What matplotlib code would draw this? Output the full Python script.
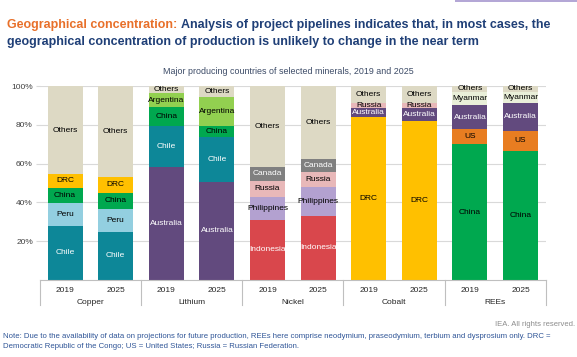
import matplotlib
matplotlib.use("Agg")
import matplotlib.pyplot as plt
from matplotlib.lines import Line2D
from matplotlib.patches import Rectangle

plt.rcParams["font.family"] = ["Liberation Sans", "DejaVu Sans"]

# ─────────────────────────────────────────────
# Data (share of production, %, stacked bottom -> top)
# ─────────────────────────────────────────────
years = ["2019", "2025"]
minerals = ["Copper", "Lithium", "Nickel", "Cobalt", "REEs"]

copper_countries = ["Chile", "Peru", "China", "DRC", "Others"]
copper_2019 = [27.8, 11.7, 8.1, 6.9, 45.5]
copper_2025 = [24.9, 11.9, 8.2, 8.3, 46.7]

lithium_countries = ["Australia", "Chile", "China", "Argentina", "Others"]
lithium_2019 = [58.4, 21.2, 9.7, 6.9, 3.8]
lithium_2025 = [50.7, 23.2, 5.5, 14.8, 5.8]

nickel_countries = ["Indonesia", "Philippines", "Russia", "Canada", "Others"]
nickel_2019 = [30.9, 12.1, 8.2, 6.9, 41.9]
nickel_2025 = [33.0, 15.1, 7.7, 6.4, 37.8]

cobalt_countries = ["DRC", "Australia", "Russia", "Others"]
cobalt_2019 = [84.2, 4.3, 2.9, 8.6]
cobalt_2025 = [82.1, 6.4, 2.9, 8.6]

rees_countries = ["China", "US", "Australia", "Myanmar", "Others"]
rees_2019 = [69.9, 7.9, 12.4, 6.8, 3.0]
rees_2025 = [66.5, 10.3, 14.6, 5.6, 3.0]

colors = {
    "Chile": "#0d8798", "Peru": "#93cfe0", "China": "#00a84f", "DRC": "#ffc000",
    "Others": "#ddd9c4", "Australia": "#624a7e", "Argentina": "#92d050",
    "Indonesia": "#d9474c", "Philippines": "#b3a1d0", "Russia": "#e8b8b9",
    "Canada": "#808080", "US": "#e87d21", "Myanmar": "#e9efd9",
}
white_text = {"Chile", "Australia", "Indonesia", "Canada"}

groups = [
    (copper_countries, [copper_2019, copper_2025]),
    (lithium_countries, [lithium_2019, lithium_2025]),
    (nickel_countries, [nickel_2019, nickel_2025]),
    (cobalt_countries, [cobalt_2019, cobalt_2025]),
    (rees_countries, [rees_2019, rees_2025]),
]

# ─────────────────────────────────────────────
# Figure
# ─────────────────────────────────────────────
fig = plt.figure(figsize=(5.77, 3.57), dpi=100)
ax = fig.add_axes([0.069, 0.216, 0.877, 0.543])

pos = 0
for countries, series in groups:
    for vals in series:
        bottom = 0
        for c, v in zip(countries, vals):
            ax.bar(pos, v, bottom=bottom, width=0.69, color=colors[c], zorder=2)
            ax.text(pos, bottom + v / 2, c, ha="center", va="center", fontsize=6,
                    color="white" if c in white_text else "black", zorder=3)
            bottom += v
        pos += 1

ax.set_xlim(-0.5, 9.5)
ax.set_ylim(0, 100)
ax.set_yticks([20, 40, 60, 80, 100])
ax.set_yticklabels([f"{t}%" for t in [20, 40, 60, 80, 100]], fontsize=6, color="#404040")
ax.grid(axis="y", color="#d9d9d9", linewidth=0.8, zorder=0)
ax.tick_params(axis="y", length=3, color="#d9d9d9", pad=2)
ax.set_xticks([])
for s in ["left", "right", "top"]:
    ax.spines[s].set_visible(False)
ax.spines["bottom"].set_color("#bfbfbf")

# category axis: years, mineral names and dividers
tr = ax.get_xaxis_transform()
for i in range(10):
    ax.text(i, -0.035, years[i % 2], transform=tr, ha="center", va="top", fontsize=6, color="#262626")
for g, name in enumerate(minerals):
    ax.text(2 * g + 0.5, -0.1, name, transform=tr, ha="center", va="top", fontsize=6, color="#262626")
for d in [-0.5, 1.5, 3.5, 5.5, 7.5, 9.5]:
    ax.add_line(Line2D([d, d], [0, -0.13], transform=tr, color="#bfbfbf", linewidth=0.8, clip_on=False))

# ─────────────────────────────────────────────
# Titles and notes
# ─────────────────────────────────────────────
fig.add_artist(Rectangle((455 / 577, 1 - 2 / 357), 122 / 577, 2 / 357, transform=fig.transFigure,
                         color="#b4a7d6", lw=0))

t1 = fig.text(0.012, 1 - 25 / 357, "Geographical concentration:", fontsize=9, fontweight="bold",
              color="#e8702a", va="center")
fig.canvas.draw()
bb = t1.get_window_extent().transformed(fig.transFigure.inverted())
fig.text(bb.x1 + 0.006, 1 - 25 / 357, "Analysis of project pipelines indicates that, in most cases, the",
         fontsize=9, fontweight="bold", color="#1f3f77", va="center")
fig.text(0.012, 1 - 42 / 357, "geographical concentration of production is unlikely to change in the near term",
         fontsize=9, fontweight="bold", color="#1f3f77", va="center")

fig.text(0.5, 1 - 71 / 357, "Major producing countries of selected minerals, 2019 and 2025",
         fontsize=6.4, color="#3b4a66", ha="center", va="center")

fig.text(575 / 577, 1 - 324 / 357, "IEA. All rights reserved.", fontsize=5.5, color="#8c8c8c",
         ha="right", va="center")
fig.text(0.005, 1 - 337 / 357,
         "Note: Due to the availability of data on projections for future production, REEs here comprise "
         "neodymium, praseodymium, terbium and dysprosium only. DRC =",
         fontsize=5.6, color="#2f5597", va="center")
fig.text(0.005, 1 - 346 / 357,
         "Democratic Republic of the Congo; US = United States; Russia = Russian Federation.",
         fontsize=5.6, color="#2f5597", va="center")

plt.savefig("out.png", dpi=100)
